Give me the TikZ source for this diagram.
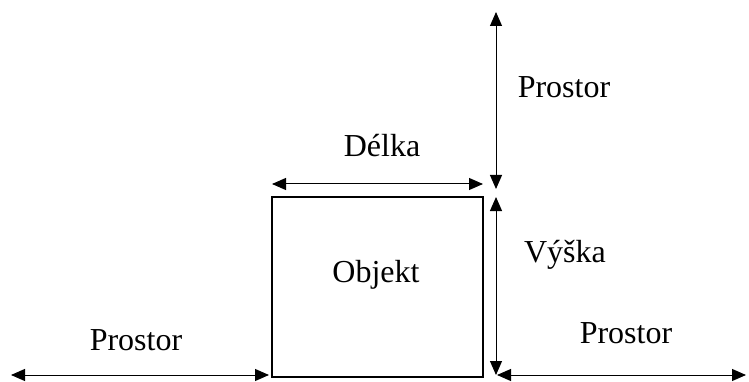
\documentclass[tikz,border=0pt]{standalone}
\usepackage{fontspec}
\setmainfont{Liberation Serif}
\usepackage{tikz}
\usetikzlibrary{arrows.meta}

\begin{document}
\begin{tikzpicture}[x=1pt, y=-1pt, >={Triangle[length=14pt,width=12pt]},
    dim/.style={<->, line width=1pt},
    lbl/.style={anchor=base, font=\fontsize{32}{38}\selectfont}]
    \useasboundingbox (0,0) rectangle (749,382);

    % Draw object
    \draw[line width=2.6pt] (272,197) rectangle (483,377);
    \node[lbl] (objekt) at (376,282) {Objekt};

    % Dimension end points
    \coordinate (dl1) at (272,184);
    \coordinate (dl2) at (483,184);
    \coordinate (vt1) at (496,12);
    \coordinate (vt2) at (496,189);
    \coordinate (vy1) at (496,197);
    \coordinate (vy2) at (496,375);
    \coordinate (pl1) at (11,375);
    \coordinate (pl2) at (269,375);
    \coordinate (pr1) at (497,375);
    \coordinate (pr2) at (746,375);

    % Dimensions
    \draw[dim] (dl1) -- (dl2);
    \draw[dim] (vt1) -- (vt2);
    \draw[dim] (vy1) -- (vy2);
    \draw[dim] (pl1) -- (pl2);
    \draw[dim] (pr1) -- (pr2);

    % Labels
    \node[lbl] (delka) at (382,157) {Délka};
    \node[lbl] (vyska) at (565,262) {Výška};
    \node[lbl] (prostorT) at (564,98) {Prostor};
    \node[lbl] (prostorL) at (136,350) {Prostor};
    \node[lbl] (prostorR) at (626,343) {Prostor};
\end{tikzpicture}
\end{document}
